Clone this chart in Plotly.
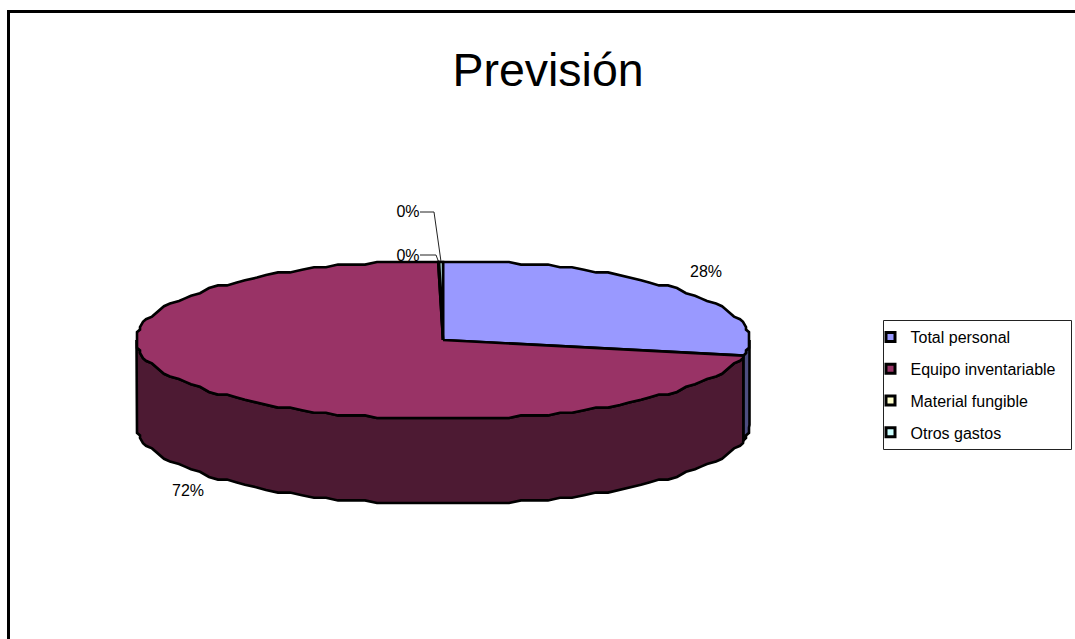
import math
import plotly.graph_objects as go

# Budget forecast by cost heading (percent of total)
categories = ["Total personal", "Equipo inventariable", "Material fungible", "Otros gastos"]
shares = [28.2, 71.55, 0.05, 0.2]

top_colors = ["#9999FF", "#993366", "#FFFFCC", "#CCFFFF"]
wall_colors = ["#4D4D80", "#4D1A33", "#808066", "#668080"]

# Disc geometry on the page-sized axes
CX, CY = 443.0, 340.0
RX, RY = 306.5, 79.0
DEPTH = 85.0
GRID_X, GRID_Y = 3.0, 2.6  # coarse plotting grid gives the outline its stepped look
STEP = 2.5  # degrees between rim vertices


def rim_point(theta, drop=0.0, snap=True):
    """Point on the rim, theta in degrees clockwise from the top of the disc."""
    x = CX + RX * math.sin(math.radians(theta))
    y = CY - RY * math.cos(math.radians(theta))
    y = round((y - CY) / GRID_Y) * GRID_Y + CY
    if snap:
        x = round((x - CX) / GRID_X) * GRID_X + CX
    return x, y + drop


def arc(start, end, drop=0.0):
    """Rim vertices between two angles; shared grid so wall and top edges coincide."""
    low, high = min(start, end), max(start, end)
    inner = [k * STEP for k in range(int(low / STEP) + 1, int(math.ceil(high / STEP)))]
    pts = [rim_point(low, drop, snap=False)]
    pts += [rim_point(a, drop) for a in inner]
    pts += [rim_point(high, drop, snap=False)]
    return pts if start <= end else pts[::-1]


# Slice boundaries in degrees, accumulated from the values
bounds = [0.0]
for share in shares:
    bounds.append(bounds[-1] + share / sum(shares) * 360.0)


fig = go.Figure()


def polygon(points, fill):
    xs = [p[0] for p in points] + [points[0][0]]
    ys = [p[1] for p in points] + [points[0][1]]
    fig.add_trace(go.Scatter(
        x=xs, y=ys, mode="lines", fill="toself", fillcolor=fill,
        line=dict(color="black", width=2.6), showlegend=False, hoverinfo="skip",
    ))


# Percent labels, positioned around the disc and drawn underneath it
pct_labels = [f"{round(s)}%" for s in shares]
label_x = [706, 188, 408, 408]
label_y = [273, 492, 256.5, 212.5]
fig.add_trace(go.Scatter(
    x=label_x, y=label_y, text=pct_labels, mode="text",
    textposition="middle center",
    textfont=dict(family="Liberation Sans", size=16, color="black"),
    showlegend=False, hoverinfo="skip",
))

# Leader lines for the two thin slices
mid_material = (bounds[2] + bounds[3]) / 2
mid_other = (bounds[3] + bounds[4]) / 2
for tip_theta, elbow_x, level in [(mid_material, 436, 255), (mid_other, 434, 212)]:
    tip = rim_point(tip_theta, snap=False)
    fig.add_trace(go.Scatter(
        x=[420, elbow_x, tip[0]], y=[level, level, tip[1]], mode="lines",
        line=dict(color="#222222", width=1), showlegend=False, hoverinfo="skip",
    ))

# Side wall: only the front half of the rim (90 to 270 degrees) is visible
for i in range(len(shares)):
    start = max(bounds[i], 90.0)
    end = min(bounds[i + 1], 270.0)
    if end <= start:
        continue
    polygon(arc(start, end) + arc(end, start, DEPTH), wall_colors[i])

# Top face
for i in range(len(shares)):
    polygon([(CX, CY)] + arc(bounds[i], bounds[i + 1]), top_colors[i])

# Legend entries: small square keys, one group per row to space them out
for name, color in zip(categories, top_colors):
    fig.add_trace(go.Scatter(
        x=[None], y=[None], mode="markers", name=name, legendgroup=name,
        marker=dict(symbol="square", size=9, color=color, line=dict(color="black", width=3)),
    ))

# Chart frame: left and top edges only reach the page
fig.add_shape(type="line", x0=8.5, x1=8.5, y0=11.5, y1=639, line=dict(color="black", width=3))
fig.add_shape(type="line", x0=7, x1=1075, y0=11.5, y1=11.5, line=dict(color="black", width=3))
# Box around the legend
fig.add_shape(type="rect", x0=883.5, x1=1071.5, y0=320.5, y1=449.5,
              line=dict(color="#222222", width=1), fillcolor="white")

fig.update_layout(
    width=1075, height=639, autosize=False,
    margin=dict(l=0, r=0, t=0, b=0),
    paper_bgcolor="white", plot_bgcolor="white",
    title=dict(
        text="Previsión", x=548 / 1075, xanchor="center",
        y=1 - 69.5 / 639, yanchor="middle",
        font=dict(family="Liberation Sans", size=46.5, color="black"),
    ),
    xaxis=dict(range=[0, 1075], visible=False, fixedrange=True),
    yaxis=dict(range=[639, 0], visible=False, fixedrange=True),
    legend=dict(
        x=870.5 / 1075, y=1 - 320 / 639, xanchor="left", yanchor="top",
        bgcolor="rgba(0,0,0,0)", borderwidth=0,
        font=dict(family="Liberation Sans", size=16, color="black"),
        tracegroupgap=8, itemsizing="trace",
    ),
    showlegend=True,
)

fig.write_html("out.html")
